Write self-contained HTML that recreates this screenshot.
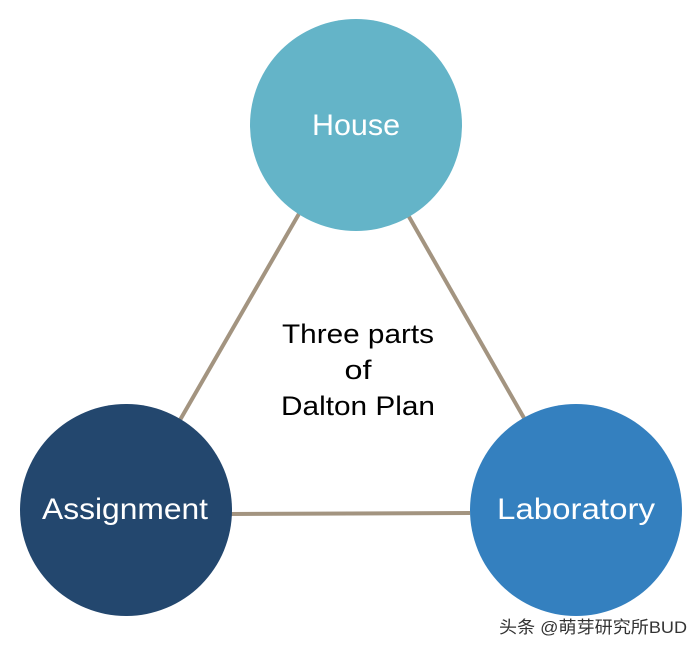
<!DOCTYPE html>
<html><head><style>
body{margin:0;background:#fff;}
</style></head><body>
<svg width="700" height="650" xmlns="http://www.w3.org/2000/svg" style="display:block">
<rect width="700" height="650" fill="#fff"/>
<line x1="300" y1="212" x2="180" y2="420" stroke="#a39480" stroke-width="4"/>
<line x1="408" y1="215" x2="524" y2="418" stroke="#a39480" stroke-width="4"/>
<line x1="230" y1="514" x2="470" y2="513" stroke="#a39480" stroke-width="4"/>
<circle cx="356" cy="125" r="106" fill="#64b4c8"/>
<circle cx="126" cy="510" r="106" fill="#23476e"/>
<circle cx="576" cy="510" r="106" fill="#3480bf"/>
<g font-family="'Liberation Sans',sans-serif" text-anchor="middle">
<text x="356" y="135" font-size="30" fill="#fff" textLength="88" lengthAdjust="spacingAndGlyphs">House</text>
<text x="125" y="519" font-size="30" fill="#fff" textLength="166" lengthAdjust="spacingAndGlyphs">Assignment</text>
<text x="576" y="519" font-size="30" fill="#fff" textLength="158" lengthAdjust="spacingAndGlyphs">Laboratory</text>
<text x="358" y="343" font-size="27" fill="#000" textLength="152" lengthAdjust="spacingAndGlyphs">Three parts</text>
<text x="358" y="379" font-size="27" fill="#000" textLength="27" lengthAdjust="spacingAndGlyphs">of</text>
<text x="358" y="415" font-size="27" fill="#000" textLength="154" lengthAdjust="spacingAndGlyphs">Dalton Plan</text>
<text x="593" y="633" font-size="17" fill="#333" font-family="'Liberation Sans','Noto Sans CJK SC',sans-serif" textLength="188" lengthAdjust="spacingAndGlyphs">头条 @萌芽研究所BUD</text>
</g>
</svg>
</body></html>
